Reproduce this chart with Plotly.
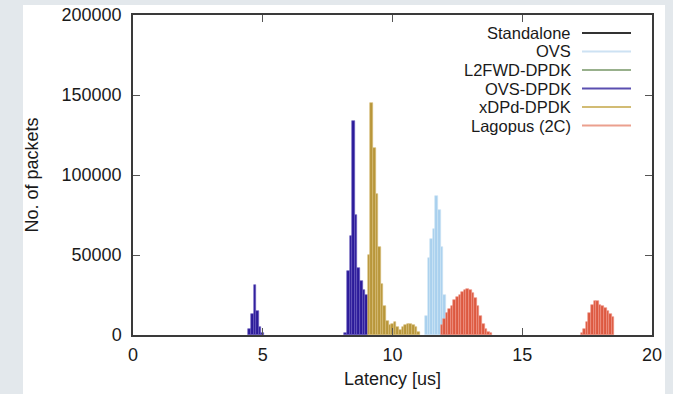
import plotly.graph_objects as go

# ---------------- data (latency histogram, bin width 0.1 us) ----------------
series_names = ["Standalone", "OVS", "L2FWD-DPDK", "OVS-DPDK", "xDPd-DPDK", "Lagopus (2C)"]

standalone_x = []
standalone_y = []

ovs_x = [11.3, 11.4, 11.5, 11.6, 11.7, 11.8, 11.9, 12.0, 12.1, 12.2]
ovs_y = [12000, 48000, 60000, 66000, 87000, 78000, 55000, 25000, 14000, 4000]

l2fwd_x = []
l2fwd_y = []

ovsdpdk_x = [4.5, 4.6, 4.7, 4.8, 4.9, 5.0,
             8.2, 8.3, 8.4, 8.5, 8.6, 8.7, 8.8, 8.9, 9.0]
ovsdpdk_y = [4000, 13000, 31000, 15000, 5000, 1500,
             1000, 40000, 62000, 134000, 75000, 42000, 34000, 28000, 25000]

xdpd_x = [9.1, 9.2, 9.3, 9.4, 9.5, 9.6, 9.7, 9.8, 9.9, 10.0,
          10.1, 10.2, 10.3, 10.4, 10.5, 10.6, 10.7, 10.8, 10.9, 11.0]
xdpd_y = [50000, 145000, 117000, 88000, 55000, 32000, 18000, 9000, 6000, 7000,
          8000, 5000, 3000, 5000, 6000, 7000, 7000, 6000, 5000, 2000]

lagopus_x = [11.9, 12.0, 12.1, 12.2, 12.3, 12.4, 12.5, 12.6, 12.7, 12.8,
             12.9, 13.0, 13.1, 13.2, 13.3, 13.4, 13.5, 13.6, 13.7, 13.8,
             17.3, 17.4, 17.5, 17.6, 17.7, 17.8, 17.9, 18.0, 18.1, 18.2,
             18.3, 18.4, 18.5]
lagopus_y = [6000, 10000, 14000, 16000, 18000, 22000, 24000, 25000, 27000, 28000,
             29000, 28000, 26000, 23000, 18000, 12000, 7000, 4000, 2000, 1000,
             1000, 4000, 8000, 14000, 19000, 21000, 21000, 19000, 18000, 17000,
             15000, 13000, 11000]

x_tick_vals = [0, 5, 10, 15, 20]
y_tick_vals = [0, 50000, 100000, 150000, 200000]

# ---------------- styles ----------------
bar_colors = ["#000000", "#a9d0ee", "#7f9f6a", "#2b1b9a", "#b8963a", "#dd5840"]
stripe_colors = ["#333333", "#cfe4f5", "#a8c096", "#6a5cc0", "#d6bd78", "#ee9686"]
legend_line_colors = ["#333333", "#cde2f3", "#98b08c", "#5a4fb0", "#d2bc74", "#eba08e"]
FONT = "Liberation Sans, Arial, sans-serif"
BIN_W = 0.1

series = [
    (standalone_x, standalone_y),
    (ovs_x, ovs_y),
    (l2fwd_x, l2fwd_y),
    (ovsdpdk_x, ovsdpdk_y),
    (xdpd_x, xdpd_y),
    (lagopus_x, lagopus_y),
]

fig = go.Figure()
for i, (xs, ys) in enumerate(series):
    fig.add_trace(go.Bar(
        x=xs, y=ys, name=series_names[i], width=BIN_W,
        marker=dict(color=bar_colors[i], line=dict(color=stripe_colors[i], width=0.6)),
        showlegend=False,
    ))

# plot area geometry in pixels (for paper coordinates)
L, R, T, B = 133, 652, 15, 335
W, H = 673, 394
pw, ph = R - L, B - T

def px_x(x):
    return (x - L) / pw

def px_y(y):
    return (B - y) / ph

shapes = [
    # white panel behind the chart
    dict(type="rect", xref="paper", yref="paper",
         x0=px_x(23), x1=px_x(665), y0=px_y(394), y1=px_y(5),
         fillcolor="white", line=dict(width=0), layer="below"),
]
annotations = []

# gnuplot-style key: right-aligned text with line sample to the right
key_text_right = 572
key_line_x0, key_line_x1 = 582, 631
key_y0, key_dy = 33, 18.5
for i, name in enumerate(series_names):
    yy = key_y0 + i * key_dy
    annotations.append(dict(
        x=px_x(key_text_right), y=px_y(yy), xref="paper", yref="paper",
        text=name, showarrow=False, xanchor="right", yanchor="middle",
        borderpad=0,
        font=dict(family=FONT, size=16.5, color="#1a1a1a"),
    ))
    shapes.append(dict(
        type="line", xref="paper", yref="paper",
        x0=px_x(key_line_x0), x1=px_x(key_line_x1), y0=px_y(yy), y1=px_y(yy),
        line=dict(color=legend_line_colors[i], width=2),
    ))

axis_common = dict(
    showline=True, linecolor="#3a3a3a", linewidth=1.5, mirror="ticks",
    ticks="inside", ticklen=7, tickwidth=1, tickcolor="#555555",
    showgrid=False, zeroline=False,
    tickfont=dict(family=FONT, size=18, color="#1a1a1a"),
)

fig.update_layout(
    width=W, height=H,
    margin=dict(l=L, r=W - R, t=T, b=H - B, autoexpand=False),
    paper_bgcolor="#e3e8ec",
    plot_bgcolor="white",
    barmode="overlay",
    bargap=0,
    shapes=shapes,
    annotations=annotations,
    xaxis=dict(range=[0, 20], tickvals=x_tick_vals, ticktext=[str(v) for v in x_tick_vals],
               title=dict(text="Latency [us]", font=dict(family=FONT, size=18, color="#1a1a1a"),
                          standoff=8),
               ticklabelstandoff=3, **axis_common),
    yaxis=dict(range=[0, 200000], tickvals=y_tick_vals, ticktext=[str(v) for v in y_tick_vals],
               title=dict(text="No. of packets", font=dict(family=FONT, size=18, color="#1a1a1a"),
                          standoff=18),
               ticklabelstandoff=6, **axis_common),
)

fig.write_html("out.html")
